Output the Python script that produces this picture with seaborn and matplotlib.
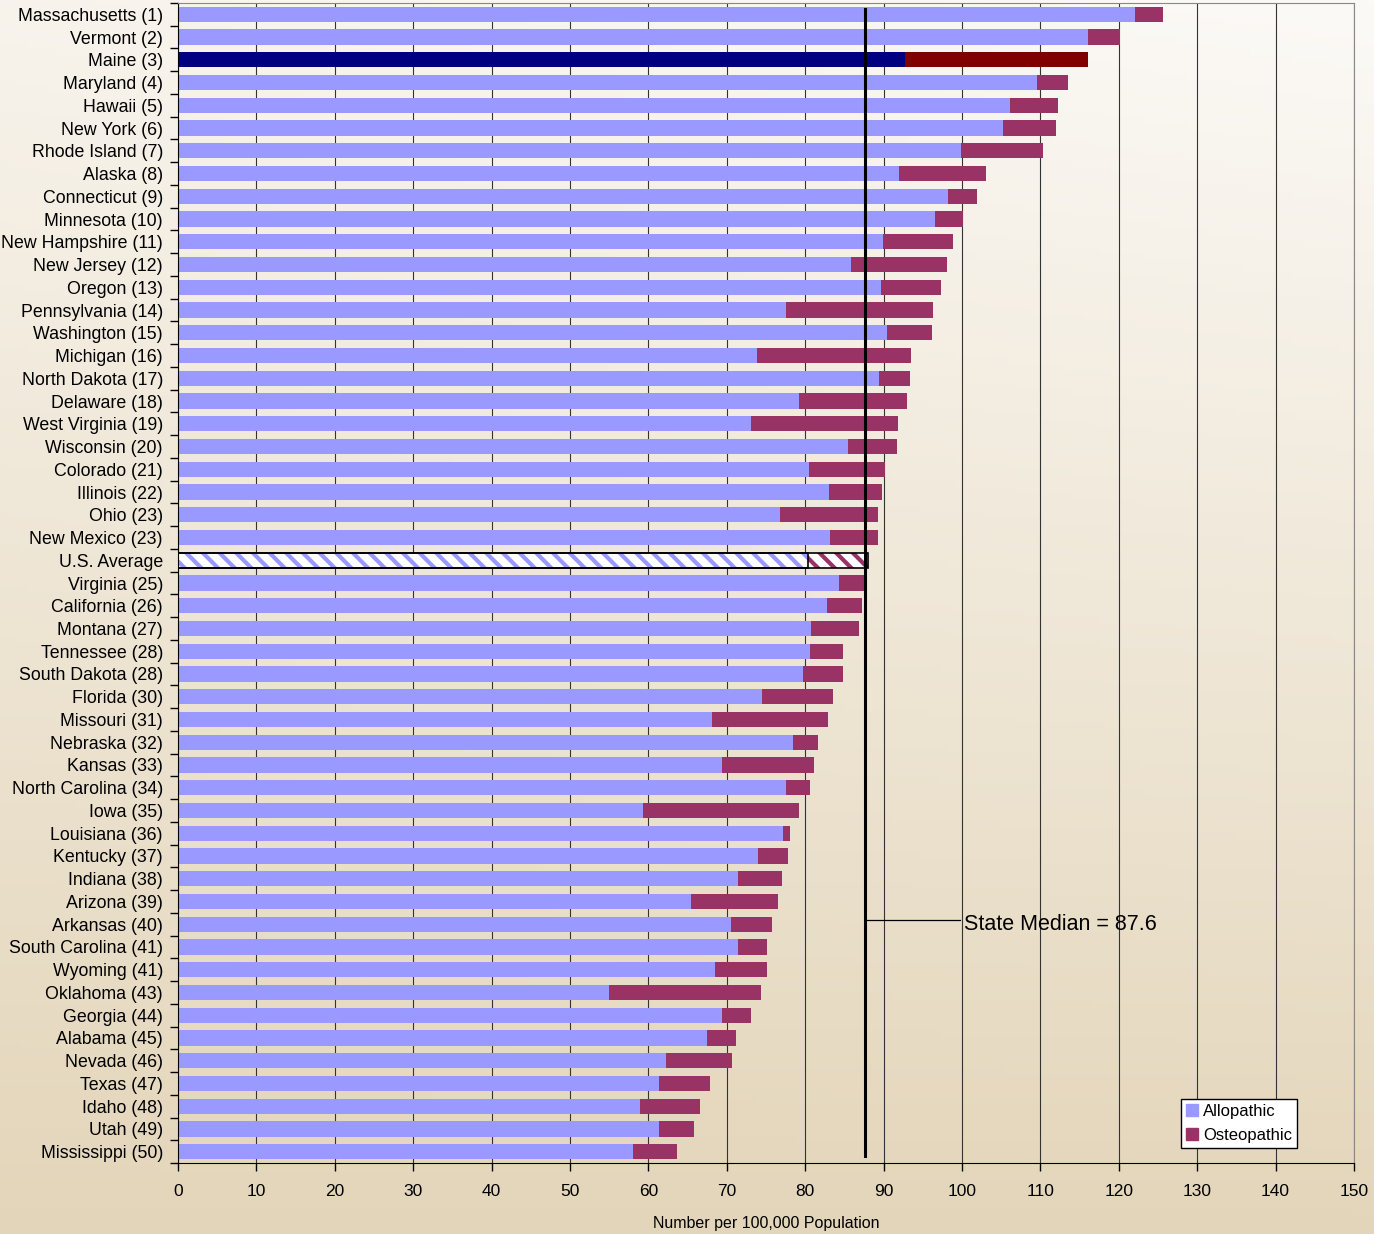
import numpy as np
import pandas as pd
import matplotlib
matplotlib.use("Agg")
import matplotlib.pyplot as plt
import matplotlib.patches as mpatches
from matplotlib.ticker import FixedLocator
import seaborn as sns

states = ["Massachusetts (1)", "Vermont (2)", "Maine (3)", "Maryland (4)", "Hawaii (5)",
          "New York (6)", "Rhode Island (7)", "Alaska (8)", "Connecticut (9)", "Minnesota (10)",
          "New Hampshire (11)", "New Jersey (12)", "Oregon (13)", "Pennsylvania (14)",
          "Washington (15)", "Michigan (16)", "North Dakota (17)", "Delaware (18)",
          "West Virginia (19)", "Wisconsin (20)", "Colorado (21)", "Illinois (22)", "Ohio (23)",
          "New Mexico (23)", "U.S. Average", "Virginia (25)", "California (26)", "Montana (27)",
          "Tennessee (28)", "South Dakota (28)", "Florida (30)", "Missouri (31)",
          "Nebraska (32)", "Kansas (33)", "North Carolina (34)", "Iowa (35)", "Louisiana (36)",
          "Kentucky (37)", "Indiana (38)", "Arizona (39)", "Arkansas (40)",
          "South Carolina (41)", "Wyoming (41)", "Oklahoma (43)", "Georgia (44)",
          "Alabama (45)", "Nevada (46)", "Texas (47)", "Idaho (48)", "Utah (49)",
          "Mississippi (50)"]

allopathic = [122.1, 116.1, 92.7, 109.6, 106.1, 105.3, 99.9, 92.0, 98.2, 96.6,
              89.9, 85.8, 89.7, 77.6, 90.4, 73.9, 89.4, 79.2, 73.1, 85.5,
              80.5, 83.0, 76.8, 83.2, 80.4, 84.3, 82.8, 80.7, 80.6, 79.7,
              74.5, 68.1, 78.4, 69.4, 77.6, 59.3, 77.2, 74.0, 71.4, 65.4,
              70.6, 71.4, 68.5, 55.0, 69.4, 67.5, 62.3, 61.4, 58.9, 61.4, 58.0]

total = [125.7, 120.1, 116.1, 113.5, 112.2, 112.0, 110.3, 103.1, 101.9, 100.1,
         98.9, 98.1, 97.3, 96.3, 96.2, 93.5, 93.4, 93.0, 91.8, 91.7,
         90.2, 89.8, 89.3, 89.3, 88.0, 87.6, 87.2, 86.9, 84.8, 84.8,
         83.5, 82.9, 81.6, 81.1, 80.6, 79.2, 78.1, 77.8, 77.1, 76.6,
         75.8, 75.1, 75.1, 74.4, 73.1, 71.2, 70.7, 67.9, 66.6, 65.8, 63.6]

state_median = 87.6
highlight_state = "Maine (3)"
average_row = "U.S. Average"
x_ticks = list(range(0, 151, 10))

allo_color = "#9999FF"
osteo_color = "#993366"

df = pd.DataFrame({"state": states, "allopathic": allopathic, "total": total})

plt.rcParams["font.family"] = ["Liberation Sans", "DejaVu Sans"]
plt.rcParams["hatch.linewidth"] = 3.0

fig = plt.figure(figsize=(13.74, 12.34), dpi=100)

# background gradient
bg = fig.add_axes([0, 0, 1, 1], zorder=-10)
yy, xx = np.mgrid[0:1:200j, 0:1:200j]
t = np.clip(0.85 * yy + 0.15 * (1 - xx) * (1 - yy), 0, 1)
top = np.array([0xFC, 0xFA, 0xF7]) / 255
bot = np.array([0xDF, 0xCF, 0xAF]) / 255
img = top[None, None, :] * (1 - t[..., None]) + bot[None, None, :] * t[..., None]
bg.imshow(img, aspect="auto", extent=[0, 1, 0, 1], origin="upper")
bg.axis("off")

ax = fig.add_axes([0.1295, 0.0575, 0.8559, 0.9401])
ax.set_facecolor("none")

sns.barplot(data=df, x="total", y="state", order=states, color=osteo_color,
            width=0.67, saturation=1, linewidth=0, ax=ax)
sns.barplot(data=df, x="allopathic", y="state", order=states, color=allo_color,
            width=0.67, saturation=1, linewidth=0, ax=ax)

tot_bars = ax.containers[0]
allo_bars = ax.containers[1]
hi = states.index(highlight_state)
tot_bars[hi].set_facecolor("#800000")
allo_bars[hi].set_facecolor("#000080")

av = states.index(average_row)
for bars, col in ((tot_bars, osteo_color), (allo_bars, allo_color)):
    p = bars[av]
    p.set_facecolor("white")
    p.set_edgecolor(col)
    p.set_hatch("\\\\")
    p.set_linewidth(0)
    ax.add_patch(mpatches.Rectangle(p.get_xy(), p.get_width(), p.get_height(),
                                    fill=False, ec="black", lw=1.2, zorder=3))

n = len(states)
ax.set_xlim(0, 150)
ax.set_ylim(n - 0.5, -0.5)
ax.set_xticks(x_ticks)
ax.set_xticklabels([str(v) for v in x_ticks], fontsize=12.5)
ax.tick_params(axis="x", length=6, width=1, pad=9, color="black")
ax.tick_params(axis="y", which="major", length=0, pad=10.8, labelsize=12.8)
ax.yaxis.set_minor_locator(FixedLocator(np.arange(n + 1) - 0.5))
ax.tick_params(axis="y", which="minor", length=6, width=1, color="black")
ax.set_ylabel("")
ax.set_xlabel("Number per 100,000 Population", fontsize=11.5, labelpad=12)

ax.set_axisbelow(True)
ax.xaxis.grid(True, color="#333333", linewidth=0.8)
ax.yaxis.grid(False)
ax.spines["left"].set_color("black")
ax.spines["bottom"].set_color("black")
ax.spines["top"].set_color("#888888")
ax.spines["right"].set_color("#888888")

# median line and label
ax.plot([state_median, state_median], [-0.25, n - 0.8], color="black", lw=2.2, zorder=5)
lab_row = states.index("Arkansas (40)")
ax.plot([state_median, 99.8], [lab_row - 0.2, lab_row - 0.2], color="black", lw=0.9, zorder=5)
ax.text(100.3, lab_row, "State Median = 87.6", fontsize=15.5, va="center", ha="left", zorder=6)

handles = [mpatches.Patch(color=allo_color, label="Allopathic"),
           mpatches.Patch(color=osteo_color, label="Osteopathic")]
leg = ax.legend(handles=handles, loc="lower right", bbox_to_anchor=(0.9515, 0.013),
                fontsize=12, frameon=True, fancybox=False, framealpha=1,
                edgecolor="black", handlelength=0.7, handleheight=0.7,
                handletextpad=0.3, labelspacing=0.55, borderpad=0.3, borderaxespad=0)
leg.get_frame().set_linewidth(1)

fig.savefig("out.png", dpi=100)
